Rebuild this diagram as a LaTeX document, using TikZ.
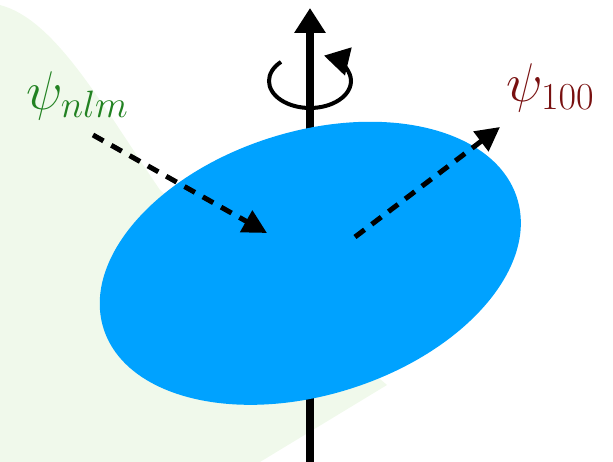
\documentclass[tikz,border=0pt]{standalone}
\usepackage{fix-cm}
\usetikzlibrary{arrows.meta,shapes.geometric}
\definecolor{orbblue}{RGB}{0,162,255}
\definecolor{bggreen}{RGB}{240,249,235}
\definecolor{nlmgreen}{RGB}{34,130,34}
\definecolor{hundredred}{RGB}{120,16,16}
\begin{document}
\begin{tikzpicture}[
    spinaxis/.style={line width=0.16cm, -{Triangle[length=0.5cm, width=0.6cm]}},
    spinring/.style={line width=0.08cm, -{Triangle[length=0.5cm, width=0.56cm]}},
    orb/.style={ellipse, fill=orbblue, inner sep=0pt, outer sep=0pt, minimum width=8.672cm, minimum height=5.268cm},
    wave/.style={line width=0.1cm, dash pattern=on 0.24cm off 0.18cm, -{Triangle[length=0.48cm, width=0.48cm]}},
    psilabel/.style={font=\fontsize{31}{37}\selectfont}
]
\useasboundingbox (0,0) rectangle (12.26,9.24);
% faint background
\fill[bggreen] (0,9.14) .. controls (1.1,8.85) and (2.0,7.2) .. (3.2,5.44) -- (7.74,1.54) -- (0,1.54) -- cycle;
\fill[bggreen] (0,1.54) -- (7.74,1.54) -- (5.2,0) -- (0,0) -- cycle;

\coordinate (axisbot) at (6.2,0);
\coordinate (axistop) at (6.2,9.08);
\draw[spinaxis] (axisbot) -- (axistop);

\node[orb, rotate=17.5] (orb) at (6.206,3.974) {};

% rotation about the axis
\coordinate (ringc) at (6.2,7.62);
\draw[spinring] (ringc) ++(135:0.82cm and 0.54cm) arc[start angle=135, end angle=430, x radius=0.82cm, y radius=0.54cm];

\node[psilabel, text=nlmgreen] (nlm) at (1.55,7.33) {$\psi_{nlm}$};
\node[psilabel, text=hundredred] (hundred) at (11.01,7.49) {$\psi_{100}$};

\coordinate (nlmtail) at (1.86,6.54);
\coordinate (nlmhead) at (5.34,4.58);
\coordinate (hundredtail) at (7.1,4.5);
\coordinate (hundredhead) at (10.0,6.7);
\draw[wave] (nlmtail) -- (nlmhead);
\draw[wave] (hundredtail) -- (hundredhead);
\end{tikzpicture}
\end{document}
